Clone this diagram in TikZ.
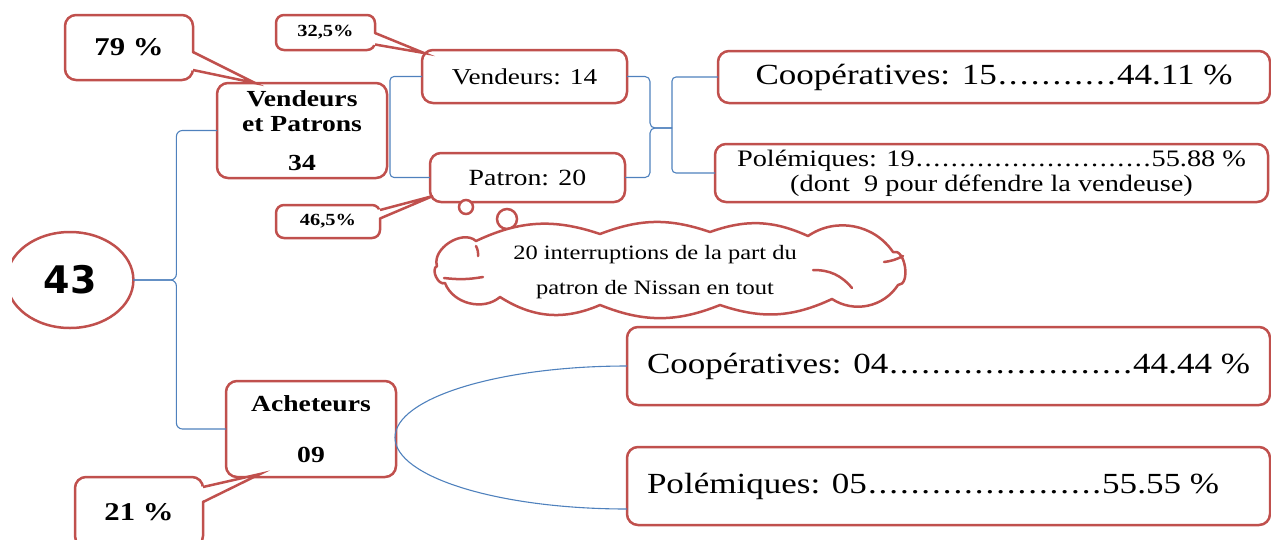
\documentclass[tikz,border=0pt]{standalone}
\usepackage{fontspec}
\setmainfont{Liberation Serif}[FakeStretch=1.2]
\newfontfamily\numfont{DejaVu Sans}
\usetikzlibrary{shapes.geometric,calc}
\definecolor{bred}{HTML}{C0504D}
\definecolor{bblue}{HTML}{4F81BD}
\newcommand\fsz[2]{\fontsize{#1}{#2}\selectfont}
\newcommand\dotrun{\xleaders\hbox to 0.36em{\hss.\hss}\hfill}
\begin{document}
\begin{tikzpicture}[x=1pt,y=-1pt,
  rbox/.style={draw=bred, line width=2.5pt, rounded corners=11pt, fill=white, inner sep=0pt, outer sep=0pt, align=center},
  conn/.style={draw=bblue, line width=1.1pt},
  ptrfill/.style={fill=white},
  ptrline/.style={draw=bred, line width=2.5pt, line join=miter},
  cloudline/.style={draw=bred, line width=2.5pt, fill=white, line join=round},
  cloudstroke/.style={draw=bred, line width=2.5pt, line cap=round}]
\useasboundingbox (0,0) rectangle (1271,539);

% ---- central ellipse (clipped on the left)
\begin{scope}
\clip (12,0) rectangle (300,539);
\node[ellipse, draw=bred, line width=2.5pt, fill=white, minimum width=126.8pt, minimum height=96pt, inner sep=0pt, outer sep=0pt, font=\numfont\bfseries\fsz{38}{40}] (e43) at (70,280) {43};
\end{scope}

% ---- coordinates for free connector ends
\coordinate (tipA) at (672,128);

% ---- box nodes
\path
  node[rbox, minimum width=170pt, minimum height=95pt, font=\bfseries\fsz{23}{25}] (vp) at (302,130.5) {Vendeurs\\et Patrons\\[14pt]34}
  node[rbox, minimum width=170pt, minimum height=96pt, font=\bfseries\fsz{23}{24}] (ach) at (311,429) {Acheteurs\\[27pt]09}
  node[rbox, minimum width=205pt, minimum height=53pt, font=\fsz{22.7}{25}] (vend) at (524.5,76.5) {Vendeurs: 14}
  node[rbox, minimum width=195pt, minimum height=49pt, font=\fsz{23.2}{25}] (pat) at (527.5,177.5) {Patron: 20}
  node[rbox, minimum width=552pt, minimum height=52pt, font=\fsz{29.2}{32}] (coop1) at (994,77) {\hbox to 477pt{Coopératives: 15\dotrun44.11 \%}}
  node[rbox, minimum width=553pt, minimum height=58pt, font=\fsz{23.6}{25}] (pol1) at (991.5,173) {\hbox to 509pt{Polémiques: 19\dotrun55.88 \%}\\(dont\ \ 9 pour défendre la vendeuse)}
  node[rbox, minimum width=643pt, minimum height=78pt, font=\fsz{29.2}{32}] (coop2) at (948.5,366) {\hbox to 603pt{Coopératives: 04\dotrun44.44 \%}}
  node[rbox, minimum width=643pt, minimum height=78pt, font=\fsz{29.2}{32}] (pol2) at (948.5,486) {\hbox to 603pt{\hbox to 572pt{Polémiques: 05\dotrun55.55 \%}\hfil}};

% ---- connectors (blue)
\draw[conn, rounded corners=6pt] (vp.west) -| ($(e43.east)+(43,0)$) -- (e43.east);
\draw[conn, rounded corners=6pt] (ach.west) -| ($(e43.east)+(43,0)$) -- (e43.east);
\draw[conn, rounded corners=4pt] (vend.west) -| ($(vp.east)+(3,0)$) |- (pat.west);
\draw[conn, rounded corners=5pt] (vend.east) -| ($(tipA)+(-22,0)$) -- (tipA);
\draw[conn, rounded corners=5pt] (pat.east) -| ($(tipA)+(-22,0)$) -- (tipA);
\draw[conn, rounded corners=4pt] (coop1.west) -| (tipA) |- (pol1.west);
\draw[conn] (coop2.west) arc[start angle=270, end angle=90, x radius=232, y radius=71.5];

% ---- callouts
\node[rbox, minimum width=128pt, minimum height=65pt, font=\bfseries\fsz{25.6}{28}] (c79) at (129,47.5) {79 \%};
\node[rbox, rounded corners=8pt, minimum width=99pt, minimum height=35pt, font=\bfseries\fsz{17}{20}] (c32) at (325.5,32.5) {32,5\%};
\node[rbox, rounded corners=8pt, minimum width=104pt, minimum height=33pt, font=\bfseries\fsz{17}{20}] (c46) at (328,221.5) {46,5\%};
\node[rbox, minimum width=128pt, minimum height=70pt, font=\bfseries\fsz{25.6}{28}] (c21) at (139,512) {21 \%};

% pointers of the callouts
\fill[ptrfill] ($(c79.east)+(-3,4.5)$) -- ($(vp.north west)+(38,0)$) -- ($(c79.east)+(-3,22.5)$) -- cycle;
\draw[ptrline] ($(c79.east)+(0,4.5)$) -- ($(vp.north west)+(38,0)$) -- ($(c79.east)+(0,22.5)$);
\fill[ptrfill] ($(c32.east)+(-3,0.5)$) -- ($(vend.north west)+(2,3)$) -- ($(c32.east)+(-3,12)$) -- cycle;
\draw[ptrline] ($(c32.east)+(0,0.5)$) -- ($(vend.north west)+(2,3)$) -- ($(c32.east)+(0,12)$);
\fill[ptrfill] ($(c46.east)+(-3,-11.5)$) -- ($(pat.south west)+(3,-6)$) -- ($(c46.east)+(-3,-3)$) -- cycle;
\draw[ptrline] ($(c46.east)+(0,-11.5)$) -- ($(pat.south west)+(3,-6)$) -- ($(c46.east)+(0,-3)$);
\fill[ptrfill] ($(c21.east)+(-3,-25)$) -- ($(ach.south west)+(34,-3)$) -- ($(c21.east)+(-3,-10)$) -- cycle;
\draw[ptrline] ($(c21.east)+(0,-25)$) -- ($(ach.south west)+(34,-3)$) -- ($(c21.east)+(0,-10)$);

% ---- thought cloud
\node[circle, draw=bred, line width=2.5pt, fill=white, minimum size=14pt, inner sep=0pt] (bub1) at (466,207) {};
\node[circle, draw=bred, line width=2.5pt, fill=white, minimum size=20pt, inner sep=0pt] (bub2) at (507,219) {};
\draw[cloudline] (437,266) to[bend left=75] (476,241)
  to[bend left=22] (600,234)
  to[bend left=20] (710,232)
  to[bend left=22] (808,236)
  to[bend left=45] (893,252)
  to[bend left=100] (898,285)
  to[bend left=45] (832,299)
  to[bend left=22] (720,305)
  to[bend left=22] (600,305)
  to[bend left=28] (500,297)
  to[bend left=55] (445,283)
  to[bend left=90] cycle;
% inner strokes of the cloud
\draw[cloudstroke] (476,246) to[bend left=15] (478,256);
\draw[cloudstroke] (444,278) to[bend right=8] (483,277);
\draw[cloudstroke] (884,262) to[bend right=10] (903,256);
\draw[cloudstroke] (813,270) to[bend left=25] (852,288);
\node[font=\fsz{20.4}{35}, align=center, inner sep=0pt] (ctext) at (655,272) {20 interruptions de la part du\\patron de Nissan en tout};
\end{tikzpicture}
\end{document}
